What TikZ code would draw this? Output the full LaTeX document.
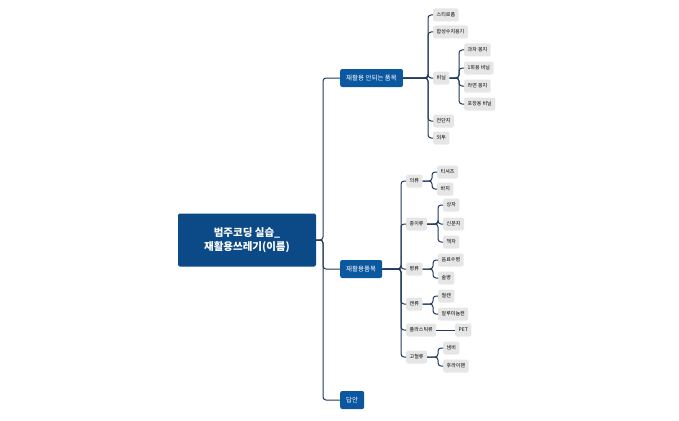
\documentclass[tikz,border=0pt]{standalone}
\usepackage{fontspec}
\setmainfont{Noto Sans CJK KR}
\begin{document}
\begin{tikzpicture}[x=1pt,y=-1pt,
  rootbox/.style={fill=rootc,text=white,rounded corners=2pt,minimum width=138pt,minimum height=53pt,align=center,font=\fontsize{10.5}{14}\selectfont\bfseries},
  mainbox/.style={fill=mainc,text=white,rounded corners=2pt,minimum height=18pt,inner xsep=6pt,font=\fontsize{6.5}{8}\selectfont,anchor=west},
  leaf/.style={fill=leafc,rounded corners=2pt,minimum height=13pt,inner xsep=3.5pt,inner ysep=1pt,font=\fontsize{5}{6}\selectfont,anchor=west},
  conn/.style={draw=linec,line width=1pt,rounded corners=3pt}]
\definecolor{rootc}{HTML}{0B4A86}
\definecolor{mainc}{HTML}{0B57A0}
\definecolor{leafc}{HTML}{E6E6E6}
\definecolor{linec}{HTML}{1F3A5A}
\useasboundingbox (0,0) rectangle (679,420);
\node[rootbox] (root) at (247,240) {범주코딩 실습\_\\재활용쓰레기(이름)};
\node[mainbox] (m1) at (340,78) {재활용 안되는 품목};
\node[mainbox] (m2) at (340,269) {재활용품목};
\node[mainbox] (m3) at (340,400) {답안};
\foreach \m in {m1,m2,m3} \draw[conn] (root.east) -- (323,240) |- (\m.west);
% group 1
\node[leaf] (a1) at (433,15) {스티로폼};
\node[leaf] (a2) at (433,32) {합성수지용기};
\node[leaf] (a3) at (433,78) {비닐};
\node[leaf] (a4) at (433,121) {전단지};
\node[leaf] (a5) at (433,138) {외투};
\foreach \c in {a1,a2,a3,a4,a5} \draw[conn] (m1.east) -- (428,78) |- (\c.west);
\node[leaf] (b1) at (464,50) {과자 봉지};
\node[leaf] (b2) at (464,68) {1회용 비닐};
\node[leaf] (b3) at (464,86) {라면 봉지};
\node[leaf] (b4) at (464,104) {포장용 비닐};
\foreach \c in {b1,b2,b3,b4} \draw[conn] (a3.east) -- (459,78) |- (\c.west);
% group 2
\node[leaf] (c1) at (406,181) {의류};
\node[leaf] (c2) at (406,224) {종이류};
\node[leaf] (c3) at (406,269) {병류};
\node[leaf] (c4) at (406,304) {캔류};
\node[leaf] (c5) at (406,330) {플라스틱류};
\node[leaf] (c6) at (406,357) {고철류};
\foreach \c in {c1,c2,c3,c4,c5,c6} \draw[conn] (m2.east) -- (401,269) |- (\c.west);
\node[leaf] (d1) at (437,172) {티셔츠};
\node[leaf] (d2) at (437,189) {바지};
\foreach \c in {d1,d2} \draw[conn] (c1.east) -- (432,181) |- (\c.west);
\node[leaf] (e1) at (443,205) {상자};
\node[leaf] (e2) at (443,224) {신문지};
\node[leaf] (e3) at (443,242) {책자};
\foreach \c in {e1,e2,e3} \draw[conn] (c2.east) -- (438,224) |- (\c.west);
\node[leaf] (f1) at (438,260) {음료수병};
\node[leaf] (f2) at (438,278) {술병};
\foreach \c in {f1,f2} \draw[conn] (c3.east) -- (433,269) |- (\c.west);
\node[leaf] (g1) at (438,296) {철캔};
\node[leaf] (g2) at (438,314) {알루미늄캔};
\foreach \c in {g1,g2} \draw[conn] (c4.east) -- (433,304) |- (\c.west);
\node[leaf] (h1) at (455,330) {PET};
\draw[conn] (c5.east) -- (h1.west);
\node[leaf] (i1) at (443,348) {냄비};
\node[leaf] (i2) at (443,366) {후라이팬};
\foreach \c in {i1,i2} \draw[conn] (c6.east) -- (438,357) |- (\c.west);
\end{tikzpicture}
\end{document}
